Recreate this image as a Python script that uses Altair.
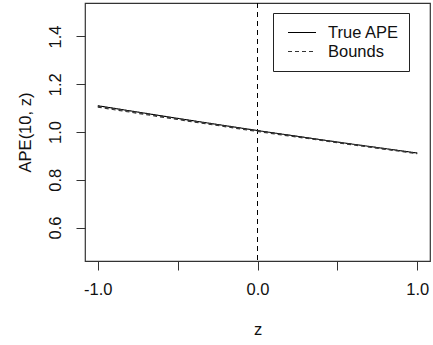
import altair as alt
import pandas as pd

# Grid of z values and the curves evaluated on it
z_vals = [-1.0, -0.5, 0.0, 0.5, 1.0]
true_ape = [1.110, 1.057, 1.006, 0.958, 0.912]
lower_bound = [1.104, 1.052, 1.002, 0.955, 0.909]
upper_bound = [1.108, 1.055, 1.005, 0.957, 0.911]

x_ticks = [-1.0, -0.5, 0.0, 0.5, 1.0]
y_ticks = [0.6, 0.8, 1.0, 1.2, 1.4]
x_domain = [-1.08, 1.08]
y_domain = [0.46, 1.54]
series_names = ["True APE", "Bounds"]

rows = []
for name, part, vals in [
    ("True APE", "true", true_ape),
    ("Bounds", "lower", lower_bound),
    ("Bounds", "upper", upper_bound),
]:
    for z, v in zip(z_vals, vals):
        rows.append({"z": z, "ape": v, "series": name, "part": part})
df = pd.DataFrame(rows)

FONT = "Liberation Sans"
# plain hyphen for negative numbers
LABEL = "replace(format(datum.value, '.1f'), '\u2212', '-')"

x_enc = alt.X(
    "z:Q",
    scale=alt.Scale(domain=x_domain, nice=False, zero=False),
    axis=alt.Axis(
        values=x_ticks,
        labelExpr=f"abs(datum.value) == 0.5 ? '' : {LABEL}",
        title="z",
        grid=False,
        domain=False,
        tickSize=9,
        tickColor="#333",
        labelPadding=11,
        labelFontSize=16.5,
        labelColor="#111",
        labelFont=FONT,
        titleFont=FONT,
        titleFontSize=16.5,
        titleFontWeight="normal",
        titleColor="#111",
        titlePadding=24,
    ),
)
y_enc = alt.Y(
    "ape:Q",
    scale=alt.Scale(domain=y_domain, nice=False, zero=False),
    axis=alt.Axis(
        values=y_ticks,
        labelExpr=LABEL,
        title="APE(10, z)",
        grid=False,
        domain=False,
        tickSize=9,
        tickColor="#333",
        labelAngle=-90,
        labelAlign="center",
        labelBaseline="bottom",
        labelPadding=13,
        labelFontSize=16.5,
        labelColor="#111",
        labelFont=FONT,
        titleFont=FONT,
        titleFontSize=16.5,
        titleFontWeight="normal",
        titleColor="#111",
        titlePadding=14,
    ),
)

lines = alt.Chart(df).mark_line(strokeWidth=1.1).encode(
    x=x_enc,
    y=y_enc,
    detail="part:N",
    color=alt.Color(
        "series:N",
        scale=alt.Scale(domain=series_names, range=["#000000", "#333333"]),
        legend=alt.Legend(
            title=None,
            orient="none",
            legendX=188,
            legendY=10,
            symbolType="stroke",
            symbolSize=784,
            symbolOffset=4,
            symbolStrokeWidth=1.1,
            clipHeight=19,
            labelFont=FONT,
            labelFontSize=16.5,
            labelColor="#111",
            labelOffset=11,
            rowPadding=0,
            padding=10,
            strokeColor="#222",
            fillColor="white",
        ),
    ),
    strokeDash=alt.StrokeDash(
        "series:N",
        scale=alt.Scale(domain=series_names, range=[[1, 0], [4, 3]]),
        legend=None,
    ),
)

vline = alt.Chart(pd.DataFrame({"z": [0.0]})).mark_rule(
    color="black", strokeWidth=1, strokeDash=[5, 4]
).encode(x="z:Q")

chart = (
    alt.layer(vline, lines)
    .properties(
        width=345,
        height=258,
        autosize=alt.AutoSizeParams(type="none"),
        padding={"left": 85, "top": 3, "right": 3, "bottom": 84},
        background="white",
    )
    .configure_view(stroke="#333", strokeWidth=1.2)
)

chart.save("out.html", embed_options={"renderer": "svg", "actions": False})
